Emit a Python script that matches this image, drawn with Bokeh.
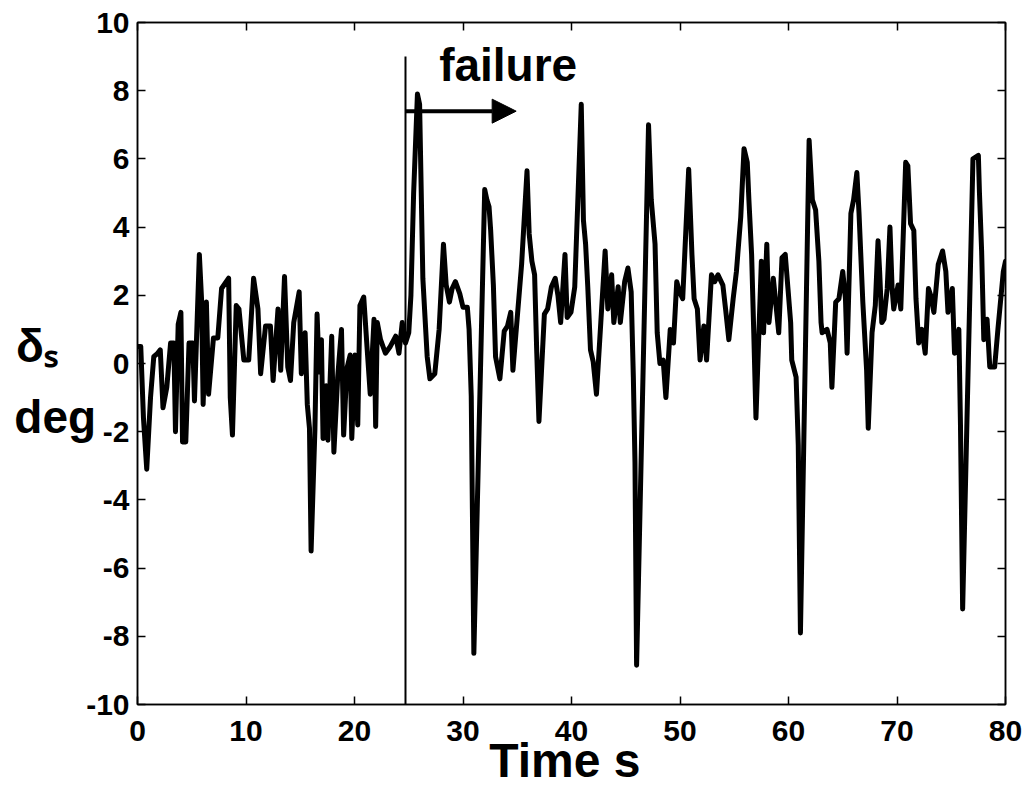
from bokeh.plotting import figure
from bokeh.models import LinearAxis, Range1d, Label, Arrow, NormalHead, FixedTicker
from bokeh.embed import file_html
from bokeh.resources import INLINE

# ---- data ----
time_s = [0.0, 0.3, 0.55, 0.85, 1.2, 1.5, 1.85, 2.1, 2.35, 2.7, 3.05, 3.35, 3.5, 3.75, 4.0, 4.15, 4.45,
          4.75, 5.1, 5.25, 5.7, 5.9, 6.05, 6.35, 6.55, 7.0, 7.4, 7.75, 8.4, 8.55, 8.75, 9.1, 9.35, 9.8,
          10.25, 10.7, 11.1, 11.35, 11.8, 12.25, 12.5, 12.95, 13.2, 13.55, 13.85, 14.1, 14.4, 14.9,
          15.1, 15.45, 15.65, 15.85, 16.0, 16.35, 16.55, 16.75, 16.95, 17.1, 17.4, 17.55, 17.9, 18.1,
          18.45, 18.8, 19.0, 19.3, 19.6, 19.75, 20.05, 20.3, 20.5, 20.85, 21.15, 21.45, 21.8, 21.95,
          22.1, 22.4, 22.85, 23.3, 23.8, 24.1, 24.4, 24.7, 25.0, 25.2, 25.45, 25.8, 26.0, 26.3, 26.7,
          26.95, 27.4, 27.8, 28.2, 28.45, 28.75, 29.0, 29.3, 29.7, 30.0, 30.4, 30.56, 30.76, 31.0,
          32.0, 32.2, 32.4, 32.55, 32.8, 33.0, 33.4, 33.8, 34.1, 34.4, 34.6, 35.0, 35.4, 35.9, 36.1,
          36.35, 36.6, 36.8, 37.0, 37.5, 37.8, 38.15, 38.5, 38.75, 39.0, 39.4, 39.6, 39.95, 40.3,
          40.9, 41.1, 41.3, 41.5, 41.75, 42.0, 42.3, 42.7, 43.1, 43.35, 43.7, 43.9, 44.3, 44.5, 44.9,
          45.2, 45.5, 45.7, 45.85, 46.0, 47.1, 47.35, 47.7, 47.9, 48.15, 48.45, 48.7, 49.1, 49.4,
          49.7, 49.95, 50.25, 50.8, 51.1, 51.3, 51.6, 51.85, 52.2, 52.45, 52.9, 53.2, 53.5, 53.95,
          54.2, 54.5, 54.9, 55.2, 55.6, 55.9, 56.2, 56.35, 56.6, 56.8, 57.0, 57.5, 57.7, 58.0, 58.2,
          58.6, 58.85, 59.1, 59.4, 59.7, 59.95, 60.2, 60.3, 60.7, 60.9, 61.1, 61.9, 62.2, 62.5, 62.8,
          63.0, 63.1, 63.55, 63.85, 64.0, 64.35, 64.65, 65.0, 65.25, 65.4, 65.75, 66.0, 66.3, 66.5,
          66.85, 67.2, 67.35, 67.7, 68.0, 68.25, 68.4, 68.6, 68.8, 69.1, 69.35, 69.55, 69.7, 70.1,
          70.35, 70.8, 71.0, 71.25, 71.55, 71.75, 72.0, 72.3, 72.6, 72.9, 73.1, 73.4, 73.8, 74.2,
          74.5, 74.7, 75.1, 75.3, 75.7, 75.85, 76.05, 77.0, 77.5, 77.6, 77.8, 78.0, 78.3, 78.55,
          79.0, 79.3, 79.8, 80.0]

delta_s = [0.5, 0.5, -1.6, -3.1, -1.0, 0.2, 0.3, 0.4, -1.3, -0.7, 0.6, 0.6, -2.0, 1.15, 1.5, -2.3, -2.3,
           0.6, 0.6, -1.1, 3.2, 1.9, -1.2, 1.8, -0.9, 0.75, 0.75, 2.2, 2.5, -1.0, -2.1, 1.7, 1.6, 0.1,
           0.1, 2.5, 1.6, -0.3, 1.1, 1.1, -0.5, 1.6, -0.2, 2.55, -0.1, -0.5, 1.2, 2.1,
           -0.3, 0.9, -1.2, -1.9, -5.5, -1.95, 1.45, -0.25, 0.7, -2.2, -0.65, -2.25, 0.8, -2.6,
           -0.4, 1.0, -2.1, -0.15, 0.25, -2.2, 0.25, -1.8, 1.7, 1.95, 0.5, -0.9, 1.3, -1.85,
           1.2, 0.7, 0.3, 0.5, 0.8, 0.3, 1.2, 0.6, 0.9, 2.0, 5.0, 7.9, 7.6, 2.5, 0.2,
           -0.45, -0.3, 1.0, 3.5, 2.3, 1.8, 2.2, 2.4, 2.05, 1.65, 1.65, 1.0, -0.96, -8.5,
           5.1, 4.8, 4.6, 3.9, 2.3, 0.2, -0.45, 0.95, 1.1, 1.5, -0.2, 1.35, 2.9, 5.65, 3.8,
           3.0, 2.6, 0.3, -1.7, 1.45, 1.6, 2.25, 2.5, 2.0, 1.2, 3.2, 1.35, 1.5, 2.25,
           7.6, 4.2, 3.5, 2.25, 0.4, 0.05, -0.9, 1.2, 3.3, 1.6, 2.6, 1.2, 2.25, 1.2, 2.4,
           2.8, 2.1, -0.4, -2.9, -8.85, 7.0, 4.8, 3.5, 0.9, 0.0, 0.1, -1.0, 1.0, 0.6,
           2.4, 2.1, 1.9, 5.7, 3.2, 1.9, 1.6, 0.1, 1.1, 0.1, 2.6, 2.4, 2.6, 2.3,
           1.6, 0.7, 1.9, 2.7, 4.3, 6.3, 5.9, 4.8, 3.2, 0.9, -1.6, 3.0, 0.9, 3.5, 1.2,
           2.5, 1.7, 0.9, 3.1, 3.2, 2.2, 1.2, 0.1, -0.4, -2.4, -7.9, 6.55, 4.8, 4.5, 3.0,
           1.2, 0.9, 1.0, 0.6, -0.7, 1.8, 1.9, 2.7, 1.9, 0.3, 4.4, 4.8, 5.6, 4.4,
           1.8, -0.2, -1.9, 0.9, 1.7, 3.6, 2.7, 1.2, 1.3, 2.2, 4.0, 2.2, 1.6, 2.3,
           1.6, 5.9, 5.8, 4.1, 3.9, 1.9, 0.6, 1.0, 0.3, 2.2, 2.0, 1.5, 2.9, 3.3,
           2.7, 1.5, 2.2, 0.3, 1.0, -1.8, -7.2, 6.0, 6.1, 5.0, 3.3, 0.7, 1.3, -0.1,
           -0.1, 1.0, 2.7, 3.0]

x_ticks = [0, 10, 20, 30, 40, 50, 60, 70, 80]
y_ticks = [-10, -8, -6, -4, -2, 0, 2, 4, 6, 8, 10]

failure_time = [24.7, 24.7]
failure_line = [9.0, -10.0]
arrow_x = [24.7, 34.9]
arrow_y = 7.4

FONT = "Liberation Sans"
NB = "\u00a0"

p = figure(width=1035, height=791, output_backend="svg", toolbar_location=None,
           x_range=Range1d(0, 80), y_range=Range1d(-10, 10),
           min_border_left=137, min_border_right=30, min_border_top=22, min_border_bottom=87)

p.background_fill_color = "white"
p.border_fill_color = "white"
p.outline_line_color = "black"
p.outline_line_width = 1.5
p.xgrid.visible = False
p.ygrid.visible = False

def style_axis(ax, ticks, show_labels=True):
    ax.ticker = FixedTicker(ticks=ticks)
    ax.major_tick_in = 8
    ax.major_tick_out = 0
    ax.major_tick_line_color = "black"
    ax.major_tick_line_width = 1.5
    ax.minor_tick_line_color = None
    ax.axis_line_color = "black"
    ax.axis_line_width = 1.5
    if show_labels:
        ax.major_label_text_font = FONT
        ax.major_label_text_font_style = "bold"
        ax.major_label_text_font_size = "30px"
        ax.major_label_text_color = "black"
        ax.major_label_overrides = {t: str(t) for t in ticks}
    else:
        ax.major_label_text_color = None
        ax.major_label_text_font_size = "1px"
        ax.major_label_standoff = 0

xax = p.xaxis[0]
style_axis(xax, x_ticks)
xax.major_label_standoff = 16
xax.axis_label = "Time s" + NB
xax.axis_label_text_font = FONT
xax.axis_label_text_font_style = "bold"
xax.axis_label_text_font_size = "48px"
xax.axis_label_text_color = "black"
xax.axis_label_standoff = -10

yax = p.yaxis[0]
style_axis(yax, y_ticks)
yax.major_label_standoff = 8
yax.axis_label = NB + "\nδₛ" + NB * 3 + "\n" + NB + "\ndeg"
yax.axis_label_orientation = "horizontal"
yax.axis_label_text_font = FONT
yax.axis_label_text_font_style = "bold"
yax.axis_label_text_font_size = "46px"
yax.axis_label_text_color = "black"
yax.axis_label_text_line_height = 0.68
yax.axis_label_standoff = -13

top_axis = LinearAxis()
style_axis(top_axis, x_ticks, show_labels=False)
p.add_layout(top_axis, "above")
right_axis = LinearAxis()
style_axis(right_axis, y_ticks, show_labels=False)
p.add_layout(right_axis, "right")

# data line
p.line(time_s, delta_s, line_color="black", line_width=5, line_join="round", line_cap="round")

# failure marker
p.line(failure_time, failure_line, line_color="black", line_width=2)
p.add_layout(Arrow(end=NormalHead(size=24, fill_color="black", line_color="black"),
                   x_start=arrow_x[0], y_start=arrow_y, x_end=arrow_x[1], y_end=arrow_y,
                   line_color="black", line_width=4))
p.add_layout(Label(x=27.8, y=8.74, text="failure", text_font=FONT, text_font_style="bold",
                   text_font_size="46px", text_color="black", text_baseline="alphabetic"))

open("out.html", "w").write(file_html(p, INLINE))
